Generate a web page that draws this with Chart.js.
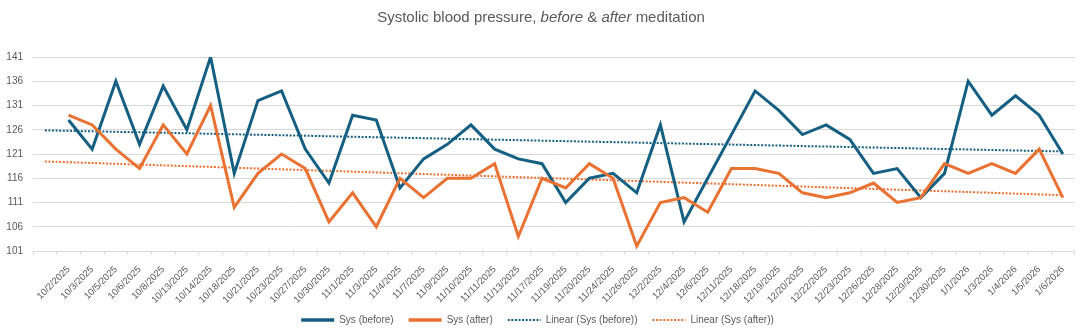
<!DOCTYPE html>
<html>
<head>
<meta charset="utf-8">
<script src="https://cdn.jsdelivr.net/npm/chart.js@4.4.1/dist/chart.umd.min.js"></script>
<style>
  html, body { margin: 0; padding: 0; background: #ffffff; }
  #wrap { width: 1080px; height: 335px; }
</style>
</head>
<body>
<div id="wrap"><canvas id="c" width="1080" height="335"></canvas></div>
<script>
// ---------- data ----------
const categories = ['', '10/2/2025', '10/3/2025', '10/5/2025', '10/6/2025', '10/8/2025', '10/13/2025', '10/14/2025',
  '10/18/2025', '10/21/2025', '10/23/2025', '10/27/2025', '10/30/2025', '11/1/2025', '11/3/2025', '11/4/2025',
  '11/7/2025', '11/9/2025', '11/10/2025', '11/11/2025', '11/13/2025', '11/17/2025', '11/19/2025', '11/20/2025',
  '11/24/2025', '11/26/2025', '12/2/2025', '12/4/2025', '12/6/2025', '12/11/2025', '12/18/2025', '12/19/2025',
  '12/20/2025', '12/22/2025', '12/23/2025', '12/26/2025', '12/28/2025', '12/29/2025', '12/30/2025', '1/1/2026',
  '1/3/2026', '1/4/2026', '1/5/2026', '1/6/2026'];

const sysBefore = [null, 128, 122, 136, 123, 135, 126, 141, 117, 132, 134, 122, 115, 129, 128, 114, 120, 123, 127,
  122, 120, 119, 111, 116, 117, 113, 127, 107, 116, 125, 134, 130, 125, 127, 124, 117, 118, 112, 117, 136, 129, 133, 129, 121];

const sysAfter = [null, 129, 127, 122, 118, 127, 121, 131, 110, 117, 121, 118, 107, 113, 106, 116, 112, 116, 116,
  119, 104, 116, 114, 119, 116, 102, 111, 112, 109, 118, 118, 117, 113, 112, 113, 115, 111, 112, 119, 117, 119, 117, 122, 112];

const seriesNames = ['Sys (before)', 'Sys (after)', 'Linear (Sys (before))', 'Linear (Sys (after))'];
const yTickMin = 101;
const yTickMax = 141;
const yTickStep = 5;

const titleParts = [
  { text: 'Systolic blood pressure, ', italic: false },
  { text: 'before', italic: true },
  { text: ' & ', italic: false },
  { text: 'after', italic: true },
  { text: ' meditation', italic: false }
];

// ---------- linear trendline (least squares over category index) ----------
function linearTrend(values) {
  let n = 0, sx = 0, sy = 0, sxx = 0, sxy = 0;
  values.forEach((v, i) => {
    if (v === null) return;
    n++; sx += i; sy += v; sxx += i * i; sxy += i * v;
  });
  const slope = (n * sxy - sx * sy) / (n * sxx - sx * sx);
  const icpt = (sy - slope * sx) / n;
  return values.map((_, i) => icpt + slope * i);
}
const trendBefore = linearTrend(sysBefore);
const trendAfter = linearTrend(sysAfter);

// ---------- styles ----------
const BLUE = '#156082';
const ORANGE = '#E97132';
const TEXT = '#595959';
const GRID = '#d9d9d9';
const FONT = "'Liberation Sans', Arial, sans-serif";

const bgPlugin = {
  id: 'bg',
  beforeDraw(chart) {
    const ctx = chart.ctx;
    ctx.save();
    ctx.fillStyle = '#ffffff';
    ctx.fillRect(0, 0, chart.width, chart.height);
    ctx.restore();
  }
};

const titlePlugin = {
  id: 'mixedTitle',
  afterDraw(chart) {
    const ctx = chart.ctx;
    const size = 15;
    ctx.save();
    ctx.fillStyle = TEXT;
    ctx.textBaseline = 'alphabetic';
    ctx.textAlign = 'left';
    let total = 0;
    const widths = titleParts.map(p => {
      ctx.font = (p.italic ? 'italic ' : '') + size + 'px ' + FONT;
      const w = ctx.measureText(p.text).width;
      total += w;
      return w;
    });
    let x = 541 - total / 2;
    titleParts.forEach((p, i) => {
      ctx.font = (p.italic ? 'italic ' : '') + size + 'px ' + FONT;
      ctx.fillText(p.text, x, 22);
      x += widths[i];
    });
    ctx.restore();
  }
};

const ctx = document.getElementById('c').getContext('2d');
new Chart(ctx, {
  type: 'line',
  data: {
    labels: categories,
    datasets: [
      { label: seriesNames[0], data: sysBefore, borderColor: BLUE, backgroundColor: BLUE, borderWidth: 3,
        pointRadius: 0, tension: 0, order: 2, borderJoinStyle: 'miter' },
      { label: seriesNames[1], data: sysAfter, borderColor: ORANGE, backgroundColor: ORANGE, borderWidth: 3,
        pointRadius: 0, tension: 0, order: 1, borderJoinStyle: 'miter' },
      { label: seriesNames[2], data: trendBefore, borderColor: BLUE, backgroundColor: BLUE, borderWidth: 2,
        borderDash: [2, 1.6], pointRadius: 0, tension: 0, order: 3 },
      { label: seriesNames[3], data: trendAfter, borderColor: ORANGE, backgroundColor: ORANGE, borderWidth: 2,
        borderDash: [2, 1.6], pointRadius: 0, tension: 0, order: 4 }
    ]
  },
  options: {
    responsive: false,
    devicePixelRatio: 1,
    animation: false,
    events: [],
    layout: { padding: { top: 57, right: 5, left: 0, bottom: 0 } },
    plugins: {
      title: { display: false },
      tooltip: { enabled: false },
      legend: {
        position: 'bottom',
        labels: {
          usePointStyle: true,
          pointStyle: 'line',
          pointStyleWidth: 33,
          boxHeight: 10,
          padding: 15,
          color: TEXT,
          font: { family: FONT, size: 10 },
          generateLabels(chart) {
            return chart.data.datasets.map((ds, i) => ({
              text: ds.label,
              datasetIndex: i,
              fillStyle: ds.borderColor,
              strokeStyle: ds.borderColor,
              fontColor: TEXT,
              lineWidth: ds.borderDash ? 2 : 3.5,
              lineDash: ds.borderDash || [],
              lineCap: 'butt',
              pointStyle: 'line',
              hidden: false
            }));
          }
        }
      }
    },
    scales: {
      x: {
        type: 'category',
        offset: true,
        afterFit(scale) {
          scale.height = 49;
          scale._computeLabelArea = function () { return undefined; };
        },
        grid: { offset: true, drawOnChartArea: false, drawTicks: true, tickLength: 4, color: GRID },
        border: { display: true, color: GRID, width: 1 },
        ticks: {
          autoSkip: false, maxRotation: 45, minRotation: 45, padding: 9,
          color: TEXT, font: { family: FONT, size: 9.5 }
        }
      },
      y: {
        min: yTickMin,
        max: yTickMax,
        afterFit(scale) { scale.width = 33; },
        grid: { color: GRID, drawTicks: false, lineWidth: 1 },
        border: { display: false },
        ticks: { stepSize: yTickStep, padding: 10, color: TEXT, font: { family: FONT, size: 10 } }
      }
    }
  },
  plugins: [bgPlugin, titlePlugin]
});
</script>
</body>
</html>
